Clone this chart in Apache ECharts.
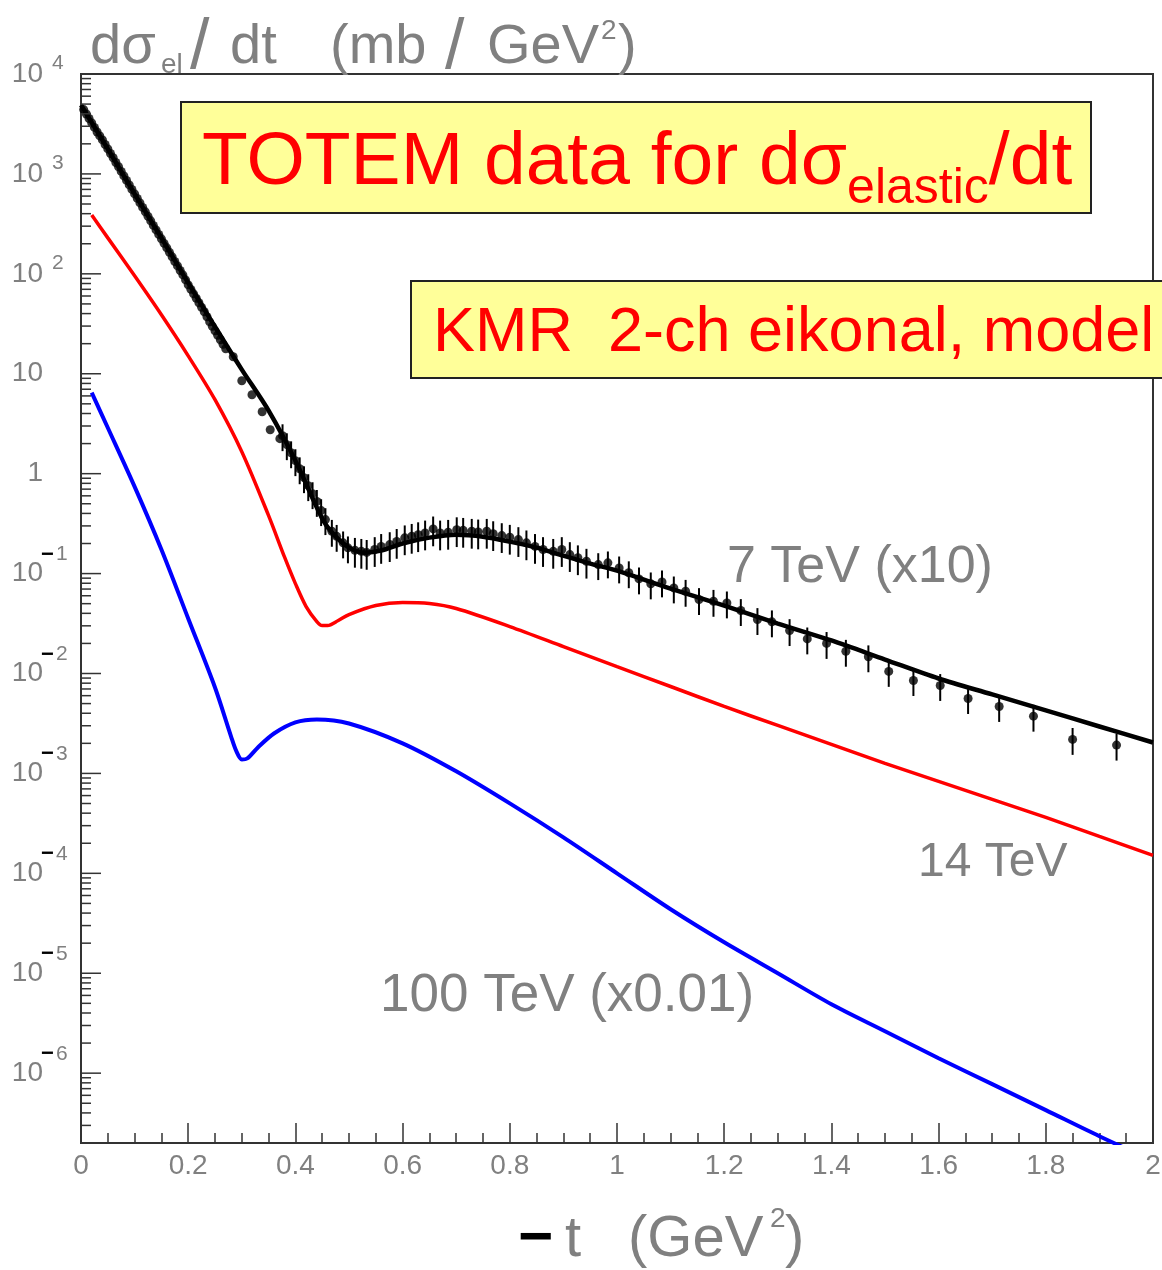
<!DOCTYPE html>
<html>
<head>
<meta charset="utf-8">
<title>TOTEM elastic dsigma/dt</title>
<script src="https://cdn.jsdelivr.net/npm/echarts@6/dist/echarts.min.js"></script>
<style>
  html, body { margin: 0; padding: 0; background: #fff; }
  #chart { width: 1162px; height: 1270px; }
</style>
</head>
<body>
<div id="chart"></div>
<script>
// 7 TeV (x10) model curve
const t7 = [0, 0.05, 0.1, 0.15, 0.2, 0.25, 0.3, 0.35, 0.4, 0.45, 0.47, 0.5, 0.53, 0.56, 0.6, 0.65, 0.7, 0.75, 0.8, 0.85, 0.9, 0.95, 1.0, 1.1, 1.2, 1.3, 1.4, 1.5, 1.6, 1.7, 1.8, 1.9, 2.0]
const v7 = [4900, 1778, 631, 229, 81.3, 29.5, 11.0, 4.27, 1.35, 0.355, 0.251, 0.182, 0.162, 0.170, 0.200, 0.229, 0.245, 0.234, 0.209, 0.182, 0.151, 0.126, 0.107, 0.0708, 0.0479, 0.0316, 0.0214, 0.0138, 0.00891, 0.00617, 0.00427, 0.00295, 0.00204]

// 14 TeV model curve
const t14 = [0.02, 0.05, 0.1, 0.15, 0.2, 0.25, 0.3, 0.35, 0.38, 0.4, 0.42, 0.44, 0.45, 0.46, 0.48, 0.5, 0.55, 0.6, 0.65, 0.7, 0.8, 0.9, 1.0, 1.1, 1.2, 1.3, 1.4, 1.5, 1.6, 1.7, 1.8, 1.9, 2.0]
const v14 = [389, 229, 95.5, 38.9, 15.1, 5.50, 1.66, 0.380, 0.145, 0.0794, 0.0468, 0.0331, 0.0302, 0.0302, 0.0339, 0.0389, 0.0479, 0.0513, 0.0501, 0.0447, 0.0295, 0.0186, 0.0117, 0.00741, 0.00468, 0.00302, 0.00195, 0.00126, 0.000832, 0.000550, 0.000363, 0.000234, 0.000151]

// 100 TeV (x0.01) model curve
const t100 = [0.02, 0.05, 0.1, 0.15, 0.2, 0.25, 0.28, 0.29, 0.3, 0.31, 0.33, 0.36, 0.4, 0.44, 0.5, 0.6, 0.7, 0.8, 0.9, 1.0, 1.1, 1.2, 1.3, 1.4, 1.5, 1.6, 1.7, 1.8, 1.9, 2.0]
const v100 = [6.46, 2.88, 0.741, 0.174, 0.0355, 0.00724, 0.00234, 0.00166, 0.00138, 0.00141, 0.00182, 0.00251, 0.00324, 0.00347, 0.00316, 0.00200, 0.00105, 0.000501, 0.000229, 0.000100, 0.0000437, 0.0000204, 0.0000100, 0.00000490, 0.00000263, 0.00000141, 7.76e-7, 4.27e-7, 2.34e-7, 1.32e-7]

// TOTEM 7 TeV data points (x10), relative errors
const totemT = [0.005, 0.01, 0.015, 0.02, 0.025, 0.03, 0.035, 0.04, 0.045, 0.05, 0.055, 0.06, 0.065, 0.07, 0.075, 0.08, 0.085, 0.09, 0.095,
  0.10, 0.105, 0.11, 0.115, 0.12, 0.125, 0.13, 0.135, 0.14, 0.145, 0.15, 0.155, 0.16, 0.165, 0.17, 0.175, 0.18, 0.185, 0.19, 0.195,
  0.20, 0.205, 0.21, 0.215, 0.22, 0.225, 0.23, 0.235, 0.24, 0.245, 0.25, 0.255, 0.26, 0.265, 0.27,
  0.284, 0.300, 0.319, 0.338, 0.353, 0.371,
  0.376, 0.384, 0.392, 0.400, 0.408, 0.416, 0.424, 0.432, 0.440, 0.448, 0.456, 0.468, 0.477, 0.489, 0.498,
  0.511, 0.523, 0.533, 0.548, 0.560, 0.576, 0.589, 0.604, 0.617, 0.629, 0.642, 0.657, 0.670, 0.685, 0.701, 0.713, 0.729, 0.741, 0.757, 0.769,
  0.785, 0.800, 0.816, 0.831, 0.847, 0.862, 0.881, 0.897, 0.912, 0.927, 0.943, 0.965, 0.983, 1.004, 1.022, 1.041, 1.063, 1.084, 1.106, 1.128,
  1.153, 1.180, 1.205, 1.231, 1.262, 1.289, 1.322, 1.355, 1.391, 1.427, 1.469, 1.507, 1.553, 1.603, 1.655, 1.713, 1.777, 1.850, 1.932]
const totemV = [4400, 3980, 3590, 3240, 2920, 2630, 2400, 2190, 1970, 1780, 1600, 1450, 1300, 1180, 1060, 955, 861, 776, 700,
  631, 569, 513, 462, 417, 376, 339, 305, 275, 248, 224, 202, 182, 164, 148, 133, 120, 108, 97.7, 87.1,
  77.6, 70.0, 63.1, 56.9, 51.3, 46.2, 41.7, 37.2, 33.1, 29.9, 26.9, 24.3, 21.9, 19.7, 17.8,
  14.8, 8.51, 6.17, 4.17, 2.75, 2.24,
  2.40, 1.95, 1.62, 1.35, 1.12, 0.912, 0.759, 0.631, 0.528, 0.427, 0.347, 0.265, 0.236, 0.203, 0.181,
  0.171, 0.167, 0.163, 0.174, 0.187, 0.195, 0.210, 0.228, 0.236, 0.245, 0.255, 0.280, 0.255, 0.259, 0.275, 0.271, 0.265, 0.261, 0.265, 0.251,
  0.240, 0.231, 0.219, 0.203, 0.187, 0.174, 0.167, 0.174, 0.155, 0.144, 0.133, 0.123, 0.128, 0.114, 0.102, 0.0885, 0.0789, 0.0826, 0.0719, 0.0665,
  0.0550, 0.0528, 0.0509, 0.0427, 0.0347, 0.0329, 0.0269, 0.0222, 0.0200, 0.0167, 0.0147, 0.0105, 0.00851, 0.00759, 0.00562, 0.00468, 0.00374, 0.00219, 0.00192]
const totemRelErr = [0, 0, 0, 0, 0, 0, 0, 0, 0, 0, 0, 0, 0, 0, 0, 0, 0, 0, 0,
  0, 0, 0, 0, 0, 0, 0, 0, 0, 0, 0, 0, 0, 0, 0, 0, 0, 0, 0, 0,
  0, 0, 0, 0, 0, 0, 0, 0, 0, 0, 0, 0, 0, 0, 0,
  0, 0, 0, 0, 0, 0,
  0.30, 0.30, 0.30, 0.30, 0.30, 0.30, 0.30, 0.30, 0.30, 0.30, 0.30, 0.30, 0.30, 0.30, 0.30,
  0.33, 0.33, 0.33, 0.33, 0.33, 0.33, 0.33, 0.33, 0.33, 0.33, 0.33, 0.33, 0.33, 0.33, 0.33, 0.33, 0.33, 0.33, 0.33, 0.33,
  0.33, 0.33, 0.33, 0.33, 0.33, 0.33, 0.33, 0.33, 0.33, 0.33, 0.33, 0.30, 0.30, 0.30, 0.30, 0.30, 0.30, 0.30, 0.30, 0.30,
  0.30, 0.30, 0.30, 0.30, 0.30, 0.30, 0.30, 0.30, 0.30, 0.30, 0.30, 0.30, 0.30, 0.30, 0.30, 0.30, 0.30, 0.30, 0.30]

// y axis decade labels: base and exponent
const yMajorTicks = [1e4, 1e3, 1e2, 10, 1, 0.1, 0.01, 1e-3, 1e-4, 1e-5, 1e-6]
const yBaseLabels = ['10', '10', '10', '10', '1', '10', '10', '10', '10', '10', '10']
const yExpLabels = ['4', '3', '2', '', '', '1', '2', '3', '4', '5', '6']
const yExpNegative = [false, false, false, false, false, true, true, true, true, true, true]
const yMinorMult = [2, 3, 4, 5, 6, 7, 8, 9]

const FONT = '"Liberation Sans", Arial, Helvetica, sans-serif'
const GREY = '#808080'
const AXIS = '#333'

const yMinorTicks = []
for (let e = -7; e <= 3; e++) {
  yMinorMult.forEach(m => {
    const v = m * Math.pow(10, e)
    if (v > 2.01e-7 && v < 1e4) yMinorTicks.push(v)
  })
}

const measureCtx = document.createElement('canvas').getContext('2d')
function fontOf(size, weight) {
  return (weight || 'normal') + ' ' + size + 'px ' + FONT
}
function textWidth(text, size, weight) {
  measureCtx.font = fontOf(size, weight)
  return measureCtx.measureText(text).width
}
// text element placed by its baseline
function txt(x, base, text, size, color, weight, z) {
  return {
    type: 'text', x: x, y: base - 0.31 * size, silent: true, z: z || 20,
    style: {
      text: text, fill: color, font: fontOf(size, weight),
      align: 'left', textAlign: 'left', verticalAlign: 'middle', textVerticalAlign: 'middle'
    }
  }
}
// chain of fragments, each {text, size, base, color, weight}
function chain(x, parts) {
  const out = []
  let cx = x
  parts.forEach(p => {
    out.push(txt(cx, p.base, p.text, p.size, p.color, p.weight, 21))
    cx += textWidth(p.text, p.size, p.weight)
  })
  return out
}

const chart = echarts.init(document.getElementById('chart'))

const graphics = [
  // y axis title
  txt(90, 65, 'dσ', 56, GREY),
  txt(161, 74, 'el', 28, GREY),
  txt(190, 70, '/', 70, GREY),
  txt(230, 65, 'dt', 56, GREY),
  txt(330, 65, '(mb', 56, GREY),
  txt(445, 70, '/', 70, GREY),
  txt(487, 65, 'GeV', 56, GREY),
  txt(601, 40, '2', 28, GREY),
  txt(618, 65, ')', 56, GREY),
  // x axis title
  txt(518, 1258, '−', 60, '#000', 'bold'),
  txt(565, 1258, 't', 58, GREY),
  txt(628, 1258, '(GeV', 58, GREY),
  txt(770, 1228, '2', 28, GREY),
  txt(785, 1258, ')', 58, GREY),
  // curve labels
  txt(727, 584, '7 TeV (x10)', 52, GREY),
  txt(918, 878, '14 TeV', 48, GREY),
  txt(380, 1013, '100 TeV (x0.01)', 53, GREY),
  // yellow boxes
  { type: 'rect', z: 18, silent: true, shape: { x: 181, y: 102, width: 910, height: 111 },
    style: { fill: '#ffff99', stroke: '#222', lineWidth: 2 } },
  { type: 'rect', z: 18, silent: true, shape: { x: 411, y: 281, width: 780, height: 97 },
    style: { fill: '#ffff99', stroke: '#222', lineWidth: 2 } }
].concat(
  chain(202, [
    { text: 'TOTEM data for dσ', size: 75, base: 187, color: '#ff0000' },
    { text: 'elastic', size: 50, base: 205, color: '#ff0000' },
    { text: '/dt', size: 75, base: 187, color: '#ff0000' }
  ]),
  chain(433, [
    { text: 'KMR  2-ch eikonal, model', size: 63, base: 353, color: '#ff0000' }
  ])
)

const option = {
  animation: false,
  backgroundColor: '#fff',
  grid: {
    left: 81, right: 9, top: 74, bottom: 127,
    show: true, borderColor: AXIS, borderWidth: 2,
    containLabel: false, outerBoundsMode: 'none'
  },
  xAxis: {
    type: 'value', min: 0, max: 2, interval: 0.2,
    axisLine: { show: true, lineStyle: { color: AXIS, width: 2 } },
    axisTick: { show: true, inside: true, length: 20, lineStyle: { color: AXIS, width: 1.5 } },
    minorTick: { show: true, splitNumber: 4, length: 10, lineStyle: { color: AXIS, width: 1.5 } },
    splitLine: { show: false },
    axisLabel: { color: GREY, fontSize: 28, fontFamily: FONT, margin: 9 }
  },
  yAxis: {
    type: 'log', logBase: 10, min: 2e-7, max: 1e4,
    axisLine: { show: true, lineStyle: { color: AXIS, width: 2 } },
    axisTick: { show: false },
    axisLabel: { show: false },
    splitLine: { show: false }
  },
  graphic: graphics,
  series: [
    {
      name: '7 TeV (x10)', type: 'line', data: t7.map((t, i) => [t, v7[i]]),
      showSymbol: false, smooth: 0.3, z: 3,
      lineStyle: { color: '#000', width: 4.5 }
    },
    {
      name: '14 TeV', type: 'line', data: t14.map((t, i) => [t, v14[i]]),
      showSymbol: false, smooth: 0.3, z: 3,
      lineStyle: { color: '#ff0000', width: 3.5 }
    },
    {
      name: '100 TeV (x0.01)', type: 'line', data: t100.map((t, i) => [t, v100[i]]),
      showSymbol: false, smooth: 0.3, z: 3,
      lineStyle: { color: '#0000ff', width: 4 }
    },
    {
      // error bars for the TOTEM points
      type: 'custom', z: 4, silent: true,
      data: totemT.map((t, i) => [t, totemV[i], totemRelErr[i]]),
      renderItem: function (params, api) {
        const t = api.value(0), v = api.value(1), e = api.value(2)
        if (!e) return null
        const hi = api.coord([t, v * (1 + e)])
        const lo = api.coord([t, v * (1 - e)])
        return {
          type: 'line',
          shape: { x1: hi[0], y1: hi[1], x2: lo[0], y2: lo[1] },
          style: { stroke: '#000', lineWidth: 2 }
        }
      }
    },
    {
      name: 'TOTEM', type: 'scatter', z: 5, silent: true,
      data: totemT.map((t, i) => [t, totemV[i]]),
      symbol: 'circle', symbolSize: 9,
      itemStyle: { color: '#000' }
    },
    {
      // y axis decade ticks and labels
      type: 'custom', clip: false, silent: true, z: 6,
      data: yMajorTicks.map((v, i) => [0, v, i]),
      renderItem: function (params, api) {
        const p = api.coord([0, api.value(1)])
        const i = api.value(2)
        const children = [
          { type: 'line', shape: { x1: p[0], y1: p[1], x2: p[0] + 20, y2: p[1] },
            style: { stroke: AXIS, lineWidth: 1.5 } },
          { type: 'text', x: p[0] - 38, y: p[1],
            style: { text: yBaseLabels[i], fill: GREY, font: fontOf(28),
              align: 'right', textAlign: 'right', verticalAlign: 'middle', textVerticalAlign: 'middle' } }
        ]
        if (yExpLabels[i]) {
          if (yExpNegative[i]) {
            children.push({ type: 'text', x: p[0] - 40, y: p[1] - 19,
              style: { text: '−', fill: '#000', font: fontOf(22, 'bold'),
                align: 'left', textAlign: 'left', verticalAlign: 'middle', textVerticalAlign: 'middle' } })
            children.push({ type: 'text', x: p[0] - 25, y: p[1] - 19,
              style: { text: yExpLabels[i], fill: GREY, font: fontOf(21),
                align: 'left', textAlign: 'left', verticalAlign: 'middle', textVerticalAlign: 'middle' } })
          } else {
            children.push({ type: 'text', x: p[0] - 29, y: p[1] - 11,
              style: { text: yExpLabels[i], fill: GREY, font: fontOf(21),
                align: 'left', textAlign: 'left', verticalAlign: 'middle', textVerticalAlign: 'middle' } })
          }
        }
        return { type: 'group', children: children }
      }
    },
    {
      // y axis minor ticks (2..9 within each decade)
      type: 'custom', clip: false, silent: true, z: 6,
      data: yMinorTicks.map(v => [0, v]),
      renderItem: function (params, api) {
        const p = api.coord([0, api.value(1)])
        return {
          type: 'line', shape: { x1: p[0], y1: p[1], x2: p[0] + 10, y2: p[1] },
          style: { stroke: AXIS, lineWidth: 1.5 }
        }
      }
    }
  ]
}

chart.setOption(option)
</script>
</body>
</html>
